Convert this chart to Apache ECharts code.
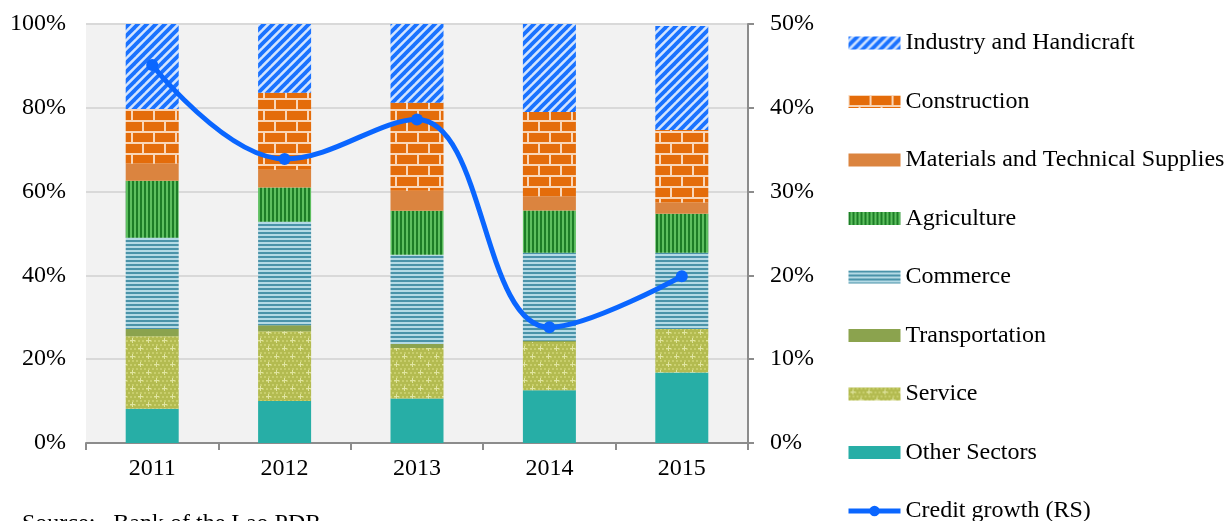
<!DOCTYPE html>
<html>
<head>
<meta charset="utf-8">
<script src="https://cdn.jsdelivr.net/npm/echarts@6/dist/echarts.min.js"></script>
<style>
  html, body { margin: 0; padding: 0; background: #fff; }
  #chart { width: 1228px; height: 521px; }
</style>
</head>
<body>
<div id="chart"></div>
<script>
// Credit by economic sector (share of total, %) and credit growth (right scale, %)
const years = ['2011', '2012', '2013', '2014', '2015'];
const otherSectors   = [8.2, 10.0, 10.6, 12.6, 16.8];
const service        = [17.3, 16.7, 12.1, 11.5, 10.4];
const transportation = [1.7, 1.4, 0.9, 0.3, -0.5];
const commerce       = [21.8, 24.7, 21.3, 21.0, 18.2];
const agriculture    = [13.6, 8.2, 10.5, 10.1, 9.3];
const materials      = [4.1, 4.2, 4.8, 3.4, 2.7];
const construction   = [13.0, 18.4, 21.0, 20.1, 17.3];
const industry       = [20.3, 16.4, 18.8, 21.0, 24.8];
const creditGrowth   = [45.1, 33.9, 38.6, 13.8, 19.9];

const leftTicks = { min: 0, max: 100, interval: 20 };
const rightTicks = { min: 0, max: 50, interval: 10 };

// ---- fill patterns ----
function makeCanvas(w, h) {
  const c = document.createElement('canvas');
  c.width = w; c.height = h;
  return c;
}
function diagonalStripes() {
  const s = 9;
  const c = makeCanvas(s, s), g = c.getContext('2d');
  g.fillStyle = '#d2e4ff'; g.fillRect(0, 0, s, s);
  g.strokeStyle = '#1a72ff'; g.lineWidth = 3.8;
  [[-s, s, s, -s], [0, s, s, 0], [0, 2 * s, 2 * s, 0]].forEach(l => {
    g.beginPath(); g.moveTo(l[0], l[1]); g.lineTo(l[2], l[3]); g.stroke();
  });
  return c;
}
function bricks() {
  const c = makeCanvas(22, 22), g = c.getContext('2d');
  g.fillStyle = '#f9d6b8'; g.fillRect(0, 0, 22, 22);
  g.fillStyle = '#e46c0a';
  g.fillRect(1, 1, 20, 9);
  g.fillRect(-10, 12, 20, 9);
  g.fillRect(12, 12, 20, 9);
  return c;
}
function verticalStripes() {
  const c = makeCanvas(4, 4), g = c.getContext('2d');
  g.fillStyle = '#5dbf5f'; g.fillRect(0, 0, 4, 4);
  g.fillStyle = '#1d7d27'; g.fillRect(0, 0, 2, 4);
  return c;
}
function horizontalStripes() {
  const c = makeCanvas(4, 4), g = c.getContext('2d');
  g.fillStyle = '#b4dae5'; g.fillRect(0, 0, 4, 4);
  g.fillStyle = '#4a93a9'; g.fillRect(0, 0, 4, 2);
  return c;
}
function dotted() {
  const c = makeCanvas(16, 16), g = c.getContext('2d');
  g.fillStyle = '#b3bb50'; g.fillRect(0, 0, 16, 16);
  g.fillStyle = '#c8ce6c';
  for (let y = 0; y < 16; y += 4) {
    for (let x = (y % 8 === 0 ? 0 : 2); x < 16; x += 4) g.fillRect(x, y, 2, 2);
  }
  g.fillStyle = '#e0e4a2';
  [[4, 4], [12, 12]].forEach(p => {
    g.fillRect(p[0] - 2, p[1], 5, 1);
    g.fillRect(p[0], p[1] - 2, 1, 5);
  });
  return c;
}
const pat = img => ({ image: img, repeat: 'repeat' });

const serif = '"Liberation Serif", "Times New Roman", serif';
const textSize = 24;
const lineBlue = '#0a66ff';

function barSeries(name, data, color) {
  return {
    name: name,
    type: 'bar',
    stack: 'share',
    barWidth: 53,
    data: data,
    itemStyle: { color: color },
    emphasis: { disabled: true }
  };
}

const chart = echarts.init(document.getElementById('chart'), null, { renderer: 'canvas' });
chart.setOption({
  animation: false,
  backgroundColor: '#ffffff',
  grid: {
    left: 86, right: 480, top: 24, bottom: 78,
    show: true, backgroundColor: '#f2f2f2', borderWidth: 0
  },
  legend: {
    orient: 'vertical',
    left: 841, top: 26,
    height: 560,
    itemWidth: 52, itemHeight: 13, itemGap: 34.5,
    textStyle: { fontFamily: serif, fontSize: textSize, color: '#000' },
    data: [
      { name: 'Industry and Handicraft', icon: 'rect' },
      { name: 'Construction', icon: 'rect' },
      { name: 'Materials and Technical Supplies', icon: 'rect' },
      { name: 'Agriculture', icon: 'rect' },
      { name: 'Commerce', icon: 'rect' },
      { name: 'Transportation', icon: 'rect' },
      { name: 'Service', icon: 'rect' },
      { name: 'Other Sectors', icon: 'rect' },
      { name: 'Credit growth (RS)', lineStyle: { width: 5 } }
    ]
  },
  xAxis: {
    type: 'category',
    data: years,
    boundaryGap: true,
    axisLine: { lineStyle: { color: '#8c8c8c', width: 2 } },
    axisTick: { show: true, length: 7, lineStyle: { color: '#8c8c8c', width: 2 } },
    axisLabel: { fontFamily: serif, fontSize: textSize, color: '#000', margin: 14 }
  },
  yAxis: [
    {
      type: 'value',
      min: leftTicks.min, max: leftTicks.max, interval: leftTicks.interval,
      axisLine: { show: false },
      axisTick: { show: false },
      splitLine: { lineStyle: { color: '#d9d9d9', width: 2 } },
      axisLabel: { formatter: '{value}%', fontFamily: serif, fontSize: textSize, color: '#000', margin: 20 }
    },
    {
      type: 'value',
      min: rightTicks.min, max: rightTicks.max, interval: rightTicks.interval,
      position: 'right',
      axisLine: { show: true, lineStyle: { color: '#8c8c8c', width: 2 } },
      axisTick: { show: true, length: 6, lineStyle: { color: '#8c8c8c', width: 2 } },
      splitLine: { show: false },
      axisLabel: { formatter: '{value}%', fontFamily: serif, fontSize: textSize, color: '#000', margin: 22 }
    }
  ],
  series: [
    barSeries('Other Sectors', otherSectors, '#27aea6'),
    barSeries('Service', service, pat(dotted())),
    barSeries('Transportation', transportation, '#8ba34e'),
    barSeries('Commerce', commerce, pat(horizontalStripes())),
    barSeries('Agriculture', agriculture, pat(verticalStripes())),
    barSeries('Materials and Technical Supplies', materials, '#db843f'),
    barSeries('Construction', construction, pat(bricks())),
    barSeries('Industry and Handicraft', industry, pat(diagonalStripes())),
    {
      name: 'Credit growth (RS)',
      type: 'line',
      yAxisIndex: 1,
      data: creditGrowth,
      smooth: 0.4,
      symbol: 'circle',
      symbolSize: 12,
      lineStyle: { color: lineBlue, width: 5 },
      itemStyle: { color: lineBlue },
      emphasis: { disabled: true },
      z: 5
    }
  ],
  graphic: [
    {
      type: 'text',
      left: 22, top: 512,
      style: { text: 'Source:   Bank of the Lao PDR', font: textSize + 'px ' + serif, fill: '#000' }
    }
  ]
});
</script>
</body>
</html>
